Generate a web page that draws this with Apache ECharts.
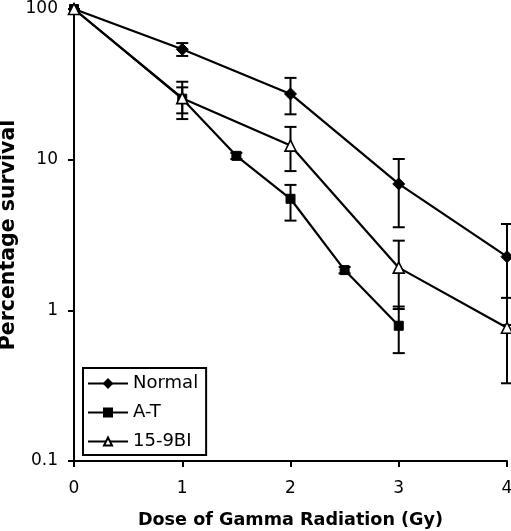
<!DOCTYPE html>
<html>
<head>
<meta charset="utf-8">
<script src="https://cdn.jsdelivr.net/npm/echarts@6/dist/echarts.min.js"></script>
<style>html,body{margin:0;padding:0;background:#fff}#c{width:511px;height:531px}</style>
</head>
<body>
<div id="c"></div>
<script>
// Data
var xTicks = [0, 1, 2, 3, 4];
var yTickLabels = ['0.1', '1', '10', '100'];

var normalX = [0, 1, 2, 3, 4];
var normalY = [100, 54, 27.3, 6.9, 2.27];
var normalLow = [100, 48.8, 20.0, 3.56, 0.8];
var normalHigh = [100, 59.4, 34.9, 10.1, 3.74];

var atX = [0, 1, 1.5, 2, 2.5, 3];
var atY = [100, 25.4, 10.6, 5.5, 1.85, 0.79];
var atLow = [100, 20.3, 10.1, 3.94, 1.76, 0.52];
var atHigh = [100, 30.2, 11.1, 6.8, 1.94, 1.06];

var biX = [0, 1, 2, 3, 4];
var biY = [100, 25.6, 12.4, 1.92, 0.767];
var biLow = [100, 18.6, 8.4, 1.02, 0.328];
var biHigh = [100, 32.9, 16.5, 2.9, 1.21];

function pairs(xs, ys) { return xs.map(function (x, i) { return [x, ys[i]]; }); }
function errs(xs, lo, hi) { return xs.map(function (x, i) { return [x, lo[i], hi[i]]; }); }

var errData = [].concat(errs(normalX, normalLow, normalHigh), errs(atX, atLow, atHigh), errs(biX, biLow, biHigh));

var chart = echarts.init(document.getElementById('c'));
var font = '"DejaVu Sans", Verdana, sans-serif';
chart.setOption({
  animation: false,
  backgroundColor: '#fff',
  grid: { left: 74, right: 4, top: 9, bottom: 70, containLabel: false, outerBoundsMode: 'none' },
  xAxis: {
    type: 'value', min: 0, max: 4, interval: 1,
    name: 'Dose of Gamma Radiation (Gy)', nameLocation: 'middle', nameGap: 50, nameMoveOverlap: false,
    nameTextStyle: { fontFamily: font, fontWeight: 'bold', fontSize: 17.6, color: '#000' },
    axisLine: { lineStyle: { color: '#000', width: 2 } },
    axisTick: { show: true, length: 6, lineStyle: { color: '#000', width: 2 } },
    axisLabel: { fontFamily: font, fontSize: 17, color: '#000', margin: 19,
      formatter: function (v) { return String(xTicks[Math.round(v)]); } },
    splitLine: { show: false }
  },
  yAxis: {
    type: 'log', logBase: 10, min: 0.1, max: 100,
    name: 'Percentage survival', nameLocation: 'middle', nameGap: 55, nameMoveOverlap: false,
    nameTextStyle: { fontFamily: font, fontWeight: 'bold', fontSize: 20.5, color: '#000' },
    axisLine: { show: true, lineStyle: { color: '#000', width: 2 } },
    axisTick: { show: true, length: 6, lineStyle: { color: '#000', width: 2 } },
    axisLabel: { fontFamily: font, fontSize: 17, color: '#000', margin: 16,
      formatter: function (v) {
        var i = Math.round(Math.log10(v)) + 1;
        return yTickLabels[i] !== undefined ? yTickLabels[i] : '';
      } },
    splitLine: { show: false }
  },
  legend: {
    orient: 'vertical', left: 83, top: 368,
    borderColor: '#000', borderWidth: 2, borderRadius: 0,
    padding: [6, 8, 4, 4],
    itemWidth: 40, itemHeight: 10, itemGap: 10,
    textStyle: { fontFamily: font, fontSize: 18, color: '#000', lineHeight: 19 },
    data: ['Normal', 'A-T', '15-9BI']
  },
  series: [
    {
      type: 'custom', name: 'err', z: 1, silent: true,
      data: errData,
      encode: { x: 0, y: [1, 2] },
      renderItem: function (params, api) {
        var x = api.value(0);
        var lo = api.coord([x, api.value(1)]);
        var hi = api.coord([x, api.value(2)]);
        var w = 6;
        var st = { stroke: '#000', lineWidth: 2 };
        return { type: 'group', children: [
          { type: 'line', shape: { x1: lo[0], y1: lo[1], x2: hi[0], y2: hi[1] }, style: st },
          { type: 'line', shape: { x1: lo[0] - w, y1: lo[1], x2: lo[0] + w, y2: lo[1] }, style: st },
          { type: 'line', shape: { x1: hi[0] - w, y1: hi[1], x2: hi[0] + w, y2: hi[1] }, style: st }
        ] };
      }
    },
    {
      type: 'line', name: 'Normal', z: 3, data: pairs(normalX, normalY),
      symbol: 'diamond', symbolSize: 12, showAllSymbol: true,
      lineStyle: { color: '#000', width: 2.2 },
      itemStyle: { color: '#000', borderColor: '#000', borderWidth: 1 }
    },
    {
      type: 'line', name: 'A-T', z: 4, data: pairs(atX, atY),
      symbol: 'rect', symbolSize: 9, showAllSymbol: true,
      lineStyle: { color: '#000', width: 2.2 },
      itemStyle: { color: '#000', borderColor: '#000', borderWidth: 1 }
    },
    {
      type: 'line', name: '15-9BI', z: 5, data: pairs(biX, biY),
      symbol: 'triangle', symbolSize: 11, showAllSymbol: true,
      lineStyle: { color: '#000', width: 2.2 },
      itemStyle: { color: '#fff', borderColor: '#000', borderWidth: 1.6 }
    }
  ]
});
</script>
</body>
</html>
